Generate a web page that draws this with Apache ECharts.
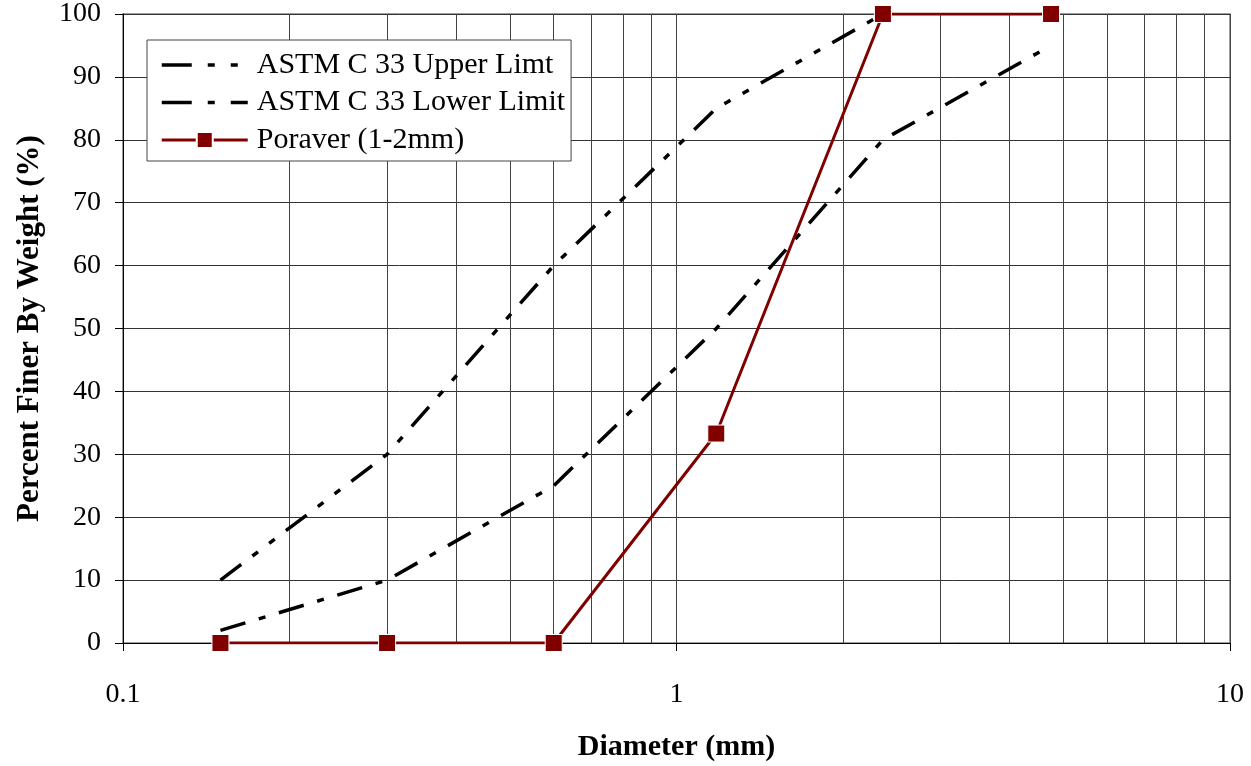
<!DOCTYPE html>
<html>
<head>
<meta charset="utf-8">
<script src="https://cdn.jsdelivr.net/npm/echarts@6/dist/echarts.min.js"></script>
<style>html,body{margin:0;padding:0;background:#fff}#c{width:1251px;height:766px}</style>
</head>
<body>
<div id="c"></div>
<script>
var sieveSizes = [0.15, 0.3, 0.6, 1.18, 2.36, 4.75];
var upperLimit = [10, 30, 60, 85, 100];
var lowerLimit = [2, 10, 25, 50, 80, 95];
var poraver = [0, 0, 0, 33.3, 100, 100];
var minorGrid = [0.2,0.3,0.4,0.5,0.6,0.7,0.8,0.9,2,3,4,5,6,7,8,9];
var seriesNames = ['ASTM C 33 Upper Limt', 'ASTM C 33 Lower Limit', 'Poraver (1-2mm)'];

function pairs(xs, ys){ return ys.map(function(v,i){ return [xs[i], v]; }); }

var font = 'Liberation Serif';
var upperDash = [26, 14, 7, 14, 7, 14];
var lowerDash = [26, 14, 7, 14];
var chart = echarts.init(document.getElementById('c'));
chart.setOption({
  animation: false,
  backgroundColor: '#fff',
  textStyle: {fontFamily: font},
  grid: {left: 123, right: 21, top: 14, bottom: 123, outerBoundsMode: 'none', containLabel: false,
    show: true, borderColor: '#808080', borderWidth: 1.5, backgroundColor: 'transparent'},
  legend: {
    left: 147, top: 40, orient: 'vertical',
    backgroundColor: '#fff', borderColor: '#444', borderWidth: 1,
    padding: [10, 6, 6, 13],
    itemWidth: 86, itemHeight: 20, itemGap: 7.5,
    textStyle: {fontFamily: font, fontSize: 30, color: '#000', padding: [0, 0, 0, 4]},
    data: [
      {name: seriesNames[0], itemStyle: {opacity: 0}, lineStyle: {width: 3.5, color: '#000', type: [30, 16, 7, 16, 7, 16]}},
      {name: seriesNames[1], itemStyle: {opacity: 0}, lineStyle: {width: 3.5, color: '#000', type: [30, 16, 7, 16]}},
      {name: seriesNames[2], lineStyle: {width: 3, color: '#800000'}}
    ]
  },
  xAxis: {
    type: 'log', logBase: 10, min: 0.1, max: 10,
    name: 'Diameter (mm)', nameLocation: 'middle', nameGap: 89,
    nameTextStyle: {fontFamily: font, fontSize: 30, fontWeight: 'bold', color: '#000'},
    axisLine: {lineStyle: {color: '#000', width: 1}},
    axisTick: {show: true, length: 8, lineStyle: {color: '#000'}},
    axisLabel: {fontFamily: font, fontSize: 28, color: '#000', margin: 38,
      formatter: function(v){ return v < 1 ? v.toFixed(1) : String(Math.round(v)); }},
    splitLine: {show: true, lineStyle: {color: '#444', width: 1}}
  },
  yAxis: {
    type: 'value', min: 0, max: 100, interval: 10,
    name: 'Percent Finer By Weight (%)', nameLocation: 'middle', nameGap: 78,
    nameTextStyle: {fontFamily: font, fontSize: 31, fontWeight: 'bold', color: '#000'},
    axisLine: {show: true, lineStyle: {color: '#000', width: 1}},
    axisTick: {show: true, length: 8, lineStyle: {color: '#000'}},
    axisLabel: {fontFamily: font, fontSize: 28, color: '#000', margin: 22},
    splitLine: {show: true, lineStyle: {color: '#333', width: 1}}
  },
  series: [
    {
      name: seriesNames[0], type: 'line', data: pairs(sieveSizes, upperLimit),
      symbol: 'none', showSymbol: false, z: 3,
      lineStyle: {color: '#000', width: 3.5, type: upperDash},
      itemStyle: {color: '#000'},
      markLine: {
        silent: true, symbol: 'none', label: {show: false},
        lineStyle: {color: '#444', width: 1, type: 'solid'},
        data: minorGrid.map(function(v){ return {xAxis: v}; }),
        z: 1
      }
    },
    {
      name: seriesNames[1], type: 'line', data: pairs(sieveSizes, lowerLimit),
      symbol: 'none', showSymbol: false, z: 3,
      lineStyle: {color: '#000', width: 3.5, type: lowerDash},
      itemStyle: {color: '#000'}
    },
    {
      name: seriesNames[2], type: 'line', data: pairs(sieveSizes, poraver),
      symbol: 'rect', symbolSize: 17, showSymbol: true, z: 4,
      lineStyle: {color: '#800000', width: 3, type: 'solid'},
      itemStyle: {color: '#800000', borderColor: '#fff', borderWidth: 1}
    }
  ]
});
</script>
</body>
</html>
